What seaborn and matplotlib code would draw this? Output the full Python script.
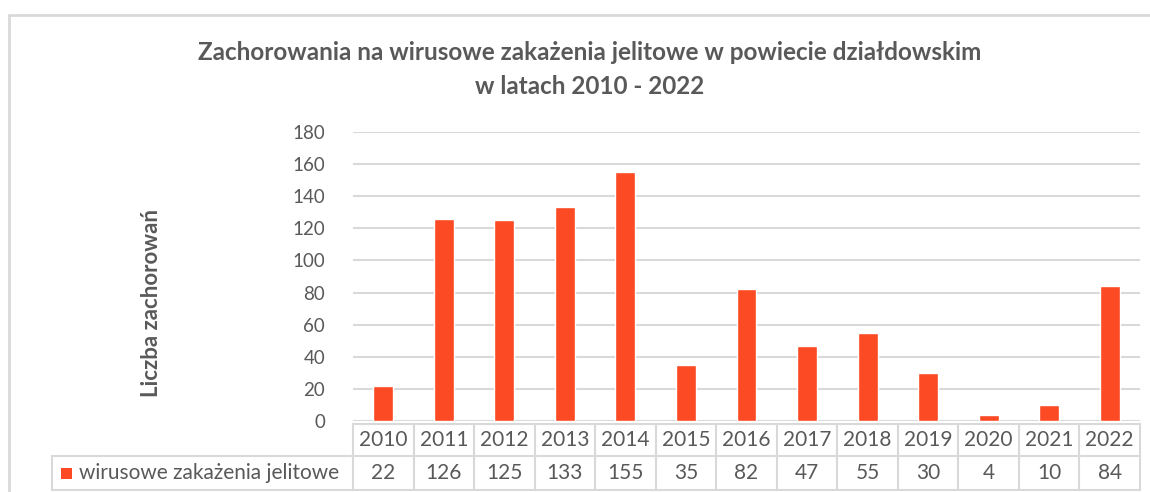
import pandas as pd
import matplotlib.pyplot as plt
import matplotlib.transforms as mtransforms
from matplotlib.patches import Rectangle
import seaborn as sns

# Data
years = ["2010", "2011", "2012", "2013", "2014", "2015", "2016",
         "2017", "2018", "2019", "2020", "2021", "2022"]
cases = [22, 126, 125, 133, 155, 35, 82, 47, 55, 30, 4, 10, 84]
series_name = "wirusowe zakażenia jelitowe"
y_ticks = [0, 20, 40, 60, 80, 100, 120, 140, 160, 180]

df = pd.DataFrame({"Rok": years, "Liczba": cases})

sns.set_style("white")
plt.rcParams['font.family'] = ['Lato', 'DejaVu Sans']

BAR = "#fc4a24"
GRID = "#d9d9d9"
TXT = "#595959"
W, H = 1150, 492

fig = plt.figure(figsize=(W / 100, H / 100), dpi=100)

# plot area in pixel coords
left, right, top, bottom = 353, 1140, 132, 421
ax = fig.add_axes([left / W, 1 - bottom / H, (right - left) / W, (bottom - top) / H])

sns.barplot(data=df, x="Rok", y="Liczba", color=BAR, width=0.33,
            saturation=1, ax=ax, zorder=3)
ax.set_xlim(-0.5, len(years) - 0.5)
ax.set_ylim(0, 180)
ax.set_yticks(y_ticks)
ax.set_yticklabels([str(t) for t in y_ticks], fontsize=13.5, color=TXT)
ax.set_xticks([])
ax.set_xlabel("")
ax.set_ylabel("")
ax.tick_params(axis="y", length=0, pad=20)
ax.yaxis.grid(True, color=GRID, linewidth=1.5, zorder=0)
for s in ax.spines.values():
    s.set_visible(False)

# chart border (top + left)
fig.add_artist(plt.Line2D([9 / W, 9 / W], [0, 1 - 15 / H], transform=fig.transFigure,
                          color="#d9d9d9", lw=2))
fig.add_artist(plt.Line2D([9 / W, 1], [1 - 15 / H, 1 - 15 / H], transform=fig.transFigure,
                          color="#d9d9d9", lw=2))

# title
fig.text(590 / W, 1 - 52 / H, "Zachorowania na wirusowe zakażenia jelitowe w powiecie działdowskim",
         ha="center", va="center", fontsize=17.5, fontweight="bold", color=TXT)
fig.text(590 / W, 1 - 86 / H, "w latach 2010 - 2022",
         ha="center", va="center", fontsize=17.5, fontweight="bold", color=TXT)

# y label
fig.text(152 / W, 1 - 303 / H, "Liczba zachorowań", rotation=90,
         ha="center", va="center", fontsize=16, fontweight="bold", color=TXT)

# data table below the axes
trans = mtransforms.blended_transform_factory(ax.transData, fig.transFigure)
y_head_top, y_mid, y_bot = 1 - 424 / H, 1 - 456 / H, 1 - 490 / H
n = len(years)
tline = dict(color=GRID, lw=1.5, clip_on=False)

# horizontal lines
fig.add_artist(plt.Line2D([-0.5, n - 0.5], [y_head_top, y_head_top], transform=trans, **tline))
fig.add_artist(plt.Line2D([52 / W, 1140 / W], [y_mid, y_mid], transform=fig.transFigure, **tline))
fig.add_artist(plt.Line2D([52 / W, 1140 / W], [y_bot, y_bot], transform=fig.transFigure, **tline))
# vertical lines
for i in range(n + 1):
    fig.add_artist(plt.Line2D([i - 0.5, i - 0.5], [y_bot, y_head_top], transform=trans, **tline))
fig.add_artist(plt.Line2D([52 / W, 52 / W], [y_bot, y_mid], transform=fig.transFigure, **tline))

for i, (yr, v) in enumerate(zip(years, cases)):
    fig.text(i, (y_head_top + y_mid) / 2, yr, transform=trans, ha="center", va="center",
             fontsize=15, color=TXT)
    fig.text(i, (y_mid + y_bot) / 2, str(v), transform=trans, ha="center", va="center",
             fontsize=15, color=TXT)

# legend key in the table
fig.add_artist(Rectangle((61 / W, 1 - 479 / H), 11 / W, 11 / H, transform=fig.transFigure,
                         facecolor=BAR, edgecolor="none"))
fig.text(79 / W, (y_mid + y_bot) / 2, series_name, ha="left", va="center",
         fontsize=15, color=TXT)

fig.savefig("out.png", dpi=100, facecolor="white")
